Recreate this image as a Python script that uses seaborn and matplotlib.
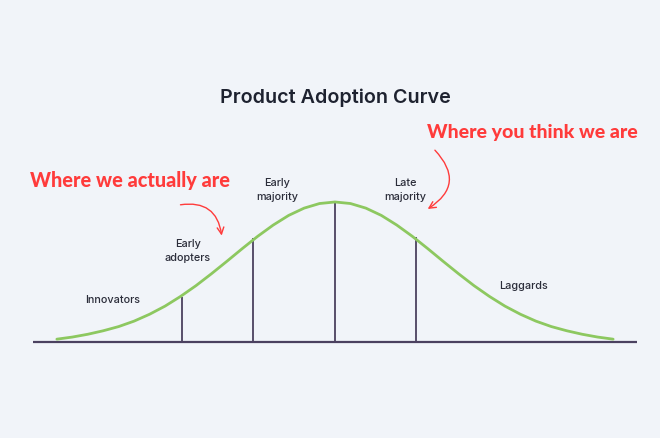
import numpy as np
import seaborn as sns
import matplotlib.pyplot as plt

# bell curve (x in std units, height relative to peak)
curve_x = [-2.7, -2.55, -2.4, -2.25, -2.1, -1.95, -1.8, -1.65, -1.5, -1.35,
           -1.2, -1.05, -0.9, -0.75, -0.6, -0.45, -0.3, -0.15, 0.0,
           0.15, 0.3, 0.45, 0.6, 0.75, 0.9, 1.05, 1.2, 1.35, 1.5,
           1.65, 1.8, 1.95, 2.1, 2.25, 2.4, 2.55, 2.7]
curve_y = [0.02, 0.035, 0.055, 0.08, 0.11, 0.149, 0.198, 0.256, 0.325, 0.402,
           0.487, 0.576, 0.667, 0.755, 0.835, 0.904, 0.956, 0.989, 1.0,
           0.989, 0.956, 0.904, 0.835, 0.755, 0.667, 0.576, 0.487, 0.402, 0.325,
           0.256, 0.198, 0.149, 0.11, 0.08, 0.055, 0.035, 0.02]

# segment dividers
divider_x = [-1.49, -0.8, 0.0, 0.79]
divider_h = [0.32, 0.74, 1.0, 0.75]

segments = ["Innovators", "Early\nadopters", "Early\nmajority", "Late\nmajority", "Laggards"]
title = "Product Adoption Curve"
callouts = ["Where we actually are", "Where you think we are"]

bg = "#f1f4f9"
green = "#8dc860"
dark = "#4b4160"
red = "#ff3b3b"
ink = "#2b2d3a"

sns.set_theme(style="white")
plt.rcParams["font.family"] = ["Inter", "DejaVu Sans"]

fig = plt.figure(figsize=(6.6, 4.39), dpi=100, facecolor=bg)
ax = fig.add_axes([0, 0, 1, 1])
ax.set_facecolor(bg)

# baseline
ax.plot([-2.93, 2.93], [0, 0], color=dark, lw=1.6, solid_capstyle="butt", zorder=2)

# dividers
ax.vlines(divider_x, 0, divider_h, color=dark, lw=1.3, zorder=2)

# curve
sns.lineplot(x=curve_x, y=curve_y, ax=ax, color=green, lw=2.0, sort=False, zorder=3)

ax.set_xlim(-3.252, 3.155)
ax.set_ylim(-0.686, 2.45)
ax.axis("off")

# title
ax.text(0.0, 1.75, title, ha="center", va="center", fontsize=14.2,
        fontweight="semibold", color="#1e2230")

# segment labels
label_pos = [(-2.16, 0.31), (-1.43, 0.66), (-0.56, 1.09), (0.68, 1.09), (1.83, 0.41)]
for (lx, ly), txt in zip(label_pos, segments):
    ax.text(lx, ly, txt, ha="center", va="center", fontsize=7.8,
            fontweight="medium", color=ink, linespacing=1.5)

# red callouts
ax.text(-2.96, 1.16, callouts[0], ha="left", va="center", fontsize=14.3,
        fontweight="black", color=red, family=["Lato", "DejaVu Sans"])
ax.text(0.89, 1.5, callouts[1], ha="left", va="center", fontsize=14.0,
        fontweight="black", color=red, family=["Lato", "DejaVu Sans"])

# curved arrows
ax.annotate("", xy=(-1.10, 0.76), xytext=(-1.50, 0.98),
            arrowprops=dict(arrowstyle="->", color=red, lw=1.0,
                            connectionstyle="arc3,rad=-0.5",
                            shrinkA=0, shrinkB=0))
ax.annotate("", xy=(0.90, 0.95), xytext=(0.97, 1.37),
            arrowprops=dict(arrowstyle="->", color=red, lw=1.0,
                            connectionstyle="arc3,rad=-0.6",
                            shrinkA=0, shrinkB=0))

fig.savefig("out.png", dpi=100, facecolor=bg)
